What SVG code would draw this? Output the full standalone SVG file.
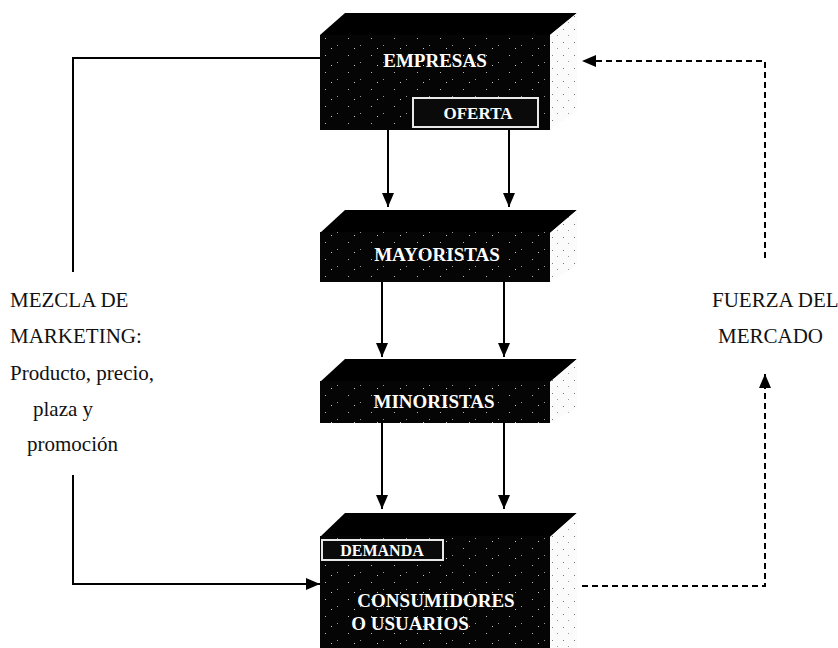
<svg xmlns="http://www.w3.org/2000/svg" width="838" height="648" viewBox="0 0 838 648">
<style>
.lbl{font-family:"Liberation Serif","Times New Roman",serif;font-size:21px;fill:#111}
.bt{font-family:"Liberation Serif","Times New Roman",serif;font-size:19px;font-weight:bold;fill:#fff;text-anchor:middle}
.front{fill:#050505}
.top{fill:#000}
.side{fill:url(#sideDots)}
.tex{fill:url(#speck)}
.sub{fill:#0a0a0a;stroke:#e8e8e8;stroke-width:2}
.solid{fill:none;stroke:#000;stroke-width:2}
.dash{fill:none;stroke:#000;stroke-width:2;stroke-dasharray:6 4}
</style>
<defs>
<pattern id="speck" width="23" height="17" patternUnits="userSpaceOnUse">
<rect x="3" y="4" width="1" height="1" fill="#bbb"/>
<rect x="15" y="11" width="1" height="1" fill="#999"/>
<rect x="9" y="14" width="1" height="1" fill="#ccc"/>
</pattern>
<pattern id="sideDots" width="11" height="13" patternUnits="userSpaceOnUse">
<rect width="11" height="13" fill="#fbfbfb"/>
<rect x="2" y="3" width="1" height="1" fill="#777"/>
<rect x="7" y="9" width="1" height="1" fill="#999"/>
</pattern>
<marker id="ah" viewBox="0 0 14 12" refX="14" refY="6" markerWidth="14" markerHeight="12" markerUnits="userSpaceOnUse" orient="auto">
<path d="M0,0 L14,6 L0,12 Z" fill="#000"/>
</marker>
</defs>

<g id="connectors">
<line class="solid" x1="388" y1="130" x2="388" y2="207" marker-end="url(#ah)"/>
<line class="solid" x1="509" y1="130" x2="509" y2="207" marker-end="url(#ah)"/>
<line class="solid" x1="382" y1="282" x2="382" y2="357" marker-end="url(#ah)"/>
<line class="solid" x1="504" y1="282" x2="504" y2="357" marker-end="url(#ah)"/>
<line class="solid" x1="382" y1="423" x2="382" y2="509" marker-end="url(#ah)"/>
<line class="solid" x1="504" y1="423" x2="504" y2="509" marker-end="url(#ah)"/>
<path class="solid" d="M320,58 H73 V272"/>
<path class="solid" d="M73,475 V584 H320" marker-end="url(#ah)"/>
<path class="dash" d="M582,586 H765 V374" marker-end="url(#ah)"/>
<path class="dash" d="M765,258 V61 H582" marker-end="url(#ah)"/>
</g>

<g id="empresas">
<polygon class="top" points="320,35 345,13 577,13 550,35"/>
<polygon class="side" points="550,35 577,13 577,110 550,130"/>
<rect class="front" x="320" y="35" width="230" height="95"/>
<rect class="tex" x="320" y="35" width="230" height="95"/>
<text class="bt" x="435" y="67">EMPRESAS</text>
<g id="oferta">
<rect class="sub" x="413" y="98" width="125" height="29"/>
<text class="bt" x="478" y="119" style="font-size:17px">OFERTA</text>
</g>
</g>

<g id="mayoristas">
<polygon class="top" points="320,233 345,210 577,210 550,233"/>
<polygon class="side" points="550,233 577,210 577,265 550,282"/>
<rect class="front" x="320" y="232" width="230" height="50"/>
<rect class="tex" x="320" y="232" width="230" height="50"/>
<text class="bt" x="437" y="261">MAYORISTAS</text>
</g>

<g id="minoristas">
<polygon class="top" points="320,382 345,359 577,359 550,382"/>
<polygon class="side" points="550,382 577,359 577,408 550,423"/>
<rect class="front" x="320" y="381" width="230" height="42"/>
<rect class="tex" x="320" y="381" width="230" height="42"/>
<text class="bt" x="434" y="408">MINORISTAS</text>
</g>

<g id="consumidores">
<polygon class="top" points="320,537 345,513 577,513 550,537"/>
<polygon class="side" points="550,537 577,513 577,648 550,648"/>
<rect class="front" x="320" y="536" width="230" height="112"/>
<rect class="tex" x="320" y="536" width="230" height="112"/>
<g id="demanda">
<rect class="sub" x="322" y="540" width="121" height="20"/>
<text class="bt" x="382" y="556" style="font-size:16px">DEMANDA</text>
</g>
<text class="bt" x="436" y="607">CONSUMIDORES</text>
<text class="bt" x="410" y="630">O USUARIOS</text>
</g>

<g id="mezcla">
<text class="lbl" x="10" y="307">MEZCLA DE</text>
<text class="lbl" x="10" y="343">MARKETING:</text>
<text class="lbl" x="10" y="380">Producto, precio,</text>
<text class="lbl" x="33" y="416">plaza y</text>
<text class="lbl" x="27" y="451">promoción</text>
</g>

<g id="fuerza">
<text class="lbl" x="712" y="307">FUERZA DEL</text>
<text class="lbl" x="718" y="343">MERCADO</text>
</g>
</svg>
